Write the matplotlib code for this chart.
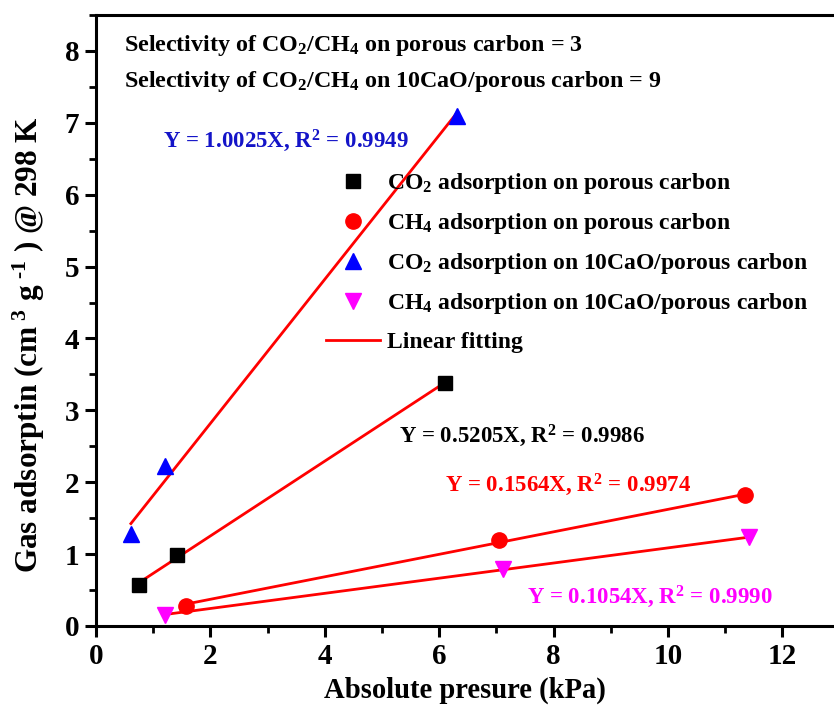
import numpy as np
import matplotlib
matplotlib.use("Agg")
import matplotlib.pyplot as plt
from matplotlib.ticker import MultipleLocator

plt.rcParams["font.family"] = ["Liberation Serif", "DejaVu Serif"]
plt.rcParams["font.weight"] = "bold"
plt.rcParams["mathtext.fontset"] = "custom"
plt.rcParams["mathtext.rm"] = "Liberation Serif:bold"
plt.rcParams["mathtext.it"] = "Liberation Serif:bold"
plt.rcParams["mathtext.bf"] = "Liberation Serif:bold"

# Adsorption isotherm points (pressure kPa, uptake cm3/g)
co2_pc_x = [0.75, 1.42, 6.10]
co2_pc_y = [0.57, 0.99, 3.38]
ch4_pc_x = [1.57, 7.05, 11.35]
ch4_pc_y = [0.28, 1.20, 1.82]
co2_cao_x = [0.61, 1.21, 6.31]
co2_cao_y = [1.28, 2.22, 7.09]
ch4_cao_x = [1.21, 7.12, 11.42]
ch4_cao_y = [0.15, 0.79, 1.24]

# Fitted slopes
slope_co2_pc = 0.5205
slope_ch4_pc = 0.1564
slope_co2_cao = 1.0025
slope_ch4_cao = 0.1054

labels = [
    r"CO$_2$ adsorption on porous carbon",
    r"CH$_4$ adsorption on porous carbon",
    r"CO$_2$ adsorption on 10CaO/porous carbon",
    r"CH$_4$ adsorption on 10CaO/porous carbon",
    "Linear fitting",
]

fig = plt.figure(figsize=(8.34, 7.06), dpi=100)
ax = fig.add_axes([96 / 834, 80 / 706, 1 - 96 / 834, (626 - 15) / 706])
ax.set_xlim(0, (834 - 96) / 57.2)
ax.set_ylim(0, 8.5)


def fit_line(x, y, k):
    x = np.asarray(x)
    y = np.asarray(y)
    b = y.mean() - k * x.mean()
    xs = np.array([x.min(), x.max()])
    return xs, k * xs + b


fit_color = "#ff0000"
lw_fit = 2.0
for xs, ys, k in [(co2_cao_x, co2_cao_y, slope_co2_cao),
                  (co2_pc_x, co2_pc_y, slope_co2_pc),
                  (ch4_pc_x, ch4_pc_y, slope_ch4_pc),
                  (ch4_cao_x, ch4_cao_y, slope_ch4_cao)]:
    lx, ly = fit_line(xs, ys, k)
    ax.plot(lx, ly, color=fit_color, lw=lw_fit, zorder=2)

h1, = ax.plot(co2_pc_x, co2_pc_y, "s", color="black", ms=10, ls="none", zorder=3)
h2, = ax.plot(ch4_pc_x, ch4_pc_y, "o", color="#ff0000", ms=11, ls="none", zorder=3)
h3, = ax.plot(co2_cao_x, co2_cao_y, "^", color="#0000ff", ms=12, ls="none", zorder=3)
h4, = ax.plot(ch4_cao_x, ch4_cao_y, "v", color="#ff00ff", ms=12, ls="none", zorder=3)
h5, = ax.plot([], [], color=fit_color, lw=lw_fit)

leg = ax.legend([h1, h2, h3, h4, h5], labels, loc="upper left",
                bbox_to_anchor=(326 / 834, 1 - 171 / 706),
                bbox_transform=fig.transFigure, frameon=False,
                prop={"family": "Liberation Serif", "weight": "bold", "size": 17},
                handlelength=2.3, handletextpad=0.3, labelspacing=0.64,
                borderaxespad=0, borderpad=0)

sel_fs = 17.3
eq_fs = 16.5
ax.text(0.49, 8.08, r"Selectivity of CO$_2$/CH$_4$ on porous carbon = 3",
        fontsize=sel_fs, fontweight="bold", va="center", ha="left")
ax.text(0.49, 7.57, r"Selectivity of CO$_2$/CH$_4$ on 10CaO/porous carbon = 9",
        fontsize=sel_fs, fontweight="bold", va="center", ha="left")
ax.text(1.17, 6.75, r"Y = 1.0025X, R$^2$ = 0.9949", color="#1414c8",
        fontsize=eq_fs, fontweight="bold", va="center", ha="left")
ax.text(5.3, 2.64, r"Y = 0.5205X, R$^2$ = 0.9986", color="black",
        fontsize=eq_fs, fontweight="bold", va="center", ha="left")
ax.text(6.1, 1.97, r"Y = 0.1564X, R$^2$ = 0.9974", color="#ff0000",
        fontsize=eq_fs, fontweight="bold", va="center", ha="left")
ax.text(7.53, 0.40, r"Y = 0.1054X, R$^2$ = 0.9990", color="#ff00ff",
        fontsize=eq_fs, fontweight="bold", va="center", ha="left")

for side in ["left", "bottom", "top"]:
    ax.spines[side].set_linewidth(2.2)
ax.spines["right"].set_visible(False)

ax.xaxis.set_major_locator(MultipleLocator(2))
ax.xaxis.set_minor_locator(MultipleLocator(1))
ax.yaxis.set_major_locator(MultipleLocator(1))
ax.yaxis.set_minor_locator(MultipleLocator(0.5))
ax.tick_params(which="major", direction="out", length=8, width=2.2,
               labelsize=21, pad=4, top=False, right=False)
ax.tick_params(which="minor", direction="out", length=5, width=2.0,
               top=False, right=False)
for lab in ax.get_xticklabels() + ax.get_yticklabels():
    lab.set_fontweight("bold")

ax.set_xlabel("Absolute presure (kPa)", fontsize=20.6, fontweight="bold", labelpad=5)
ax.set_ylabel(r"Gas adsorptin (cm$^{\ 3}$ g$^{\ \text{-}1}$ ) @ 298 K", fontsize=22.5,
              fontweight="bold")
ax.yaxis.set_label_coords(-0.066, 0.46)

fig.savefig("out.png", dpi=100)
